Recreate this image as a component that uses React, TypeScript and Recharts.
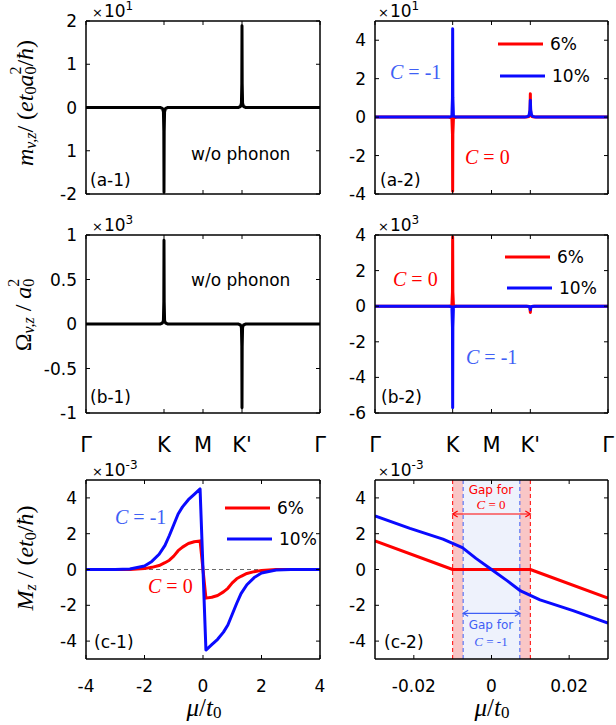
import React from 'react';
import { LineChart, Line, XAxis, YAxis, ReferenceLine, ReferenceArea } from 'recharts';

const RED = '#ff0000';
const BLUE = '#0a0aff';
const BLUE_TXT = '#3f5ff5';
const BLACK = '#000000';
const SANS = "'DejaVu Sans', sans-serif";
const SERIF = "'Liberation Serif', serif";

// ---------- k-path axis (Γ-K-M-K'-Γ) ----------
const kTicks = [0, 2, 3, 4, 6];
const kLabels = ['Γ', 'K', 'M', "K'", 'Γ'];

// ---------- (a-1) orbital magnetic moment, w/o phonon (×10^1) ----------
const a1X = [0, 1.9, 1.96, 1.985, 1.995, 2, 2.005, 2.015, 2.04, 2.1, 3.9, 3.96, 3.985, 3.995, 4, 4.005, 4.015, 4.04, 4.1, 6];
const a1Y = [0, 0, -0.02, -0.1, -0.55, -1.96, -0.55, -0.1, -0.02, 0, 0, 0.02, 0.1, 0.55, 1.89, 0.55, 0.1, 0.02, 0, 0];
const a1YTicks = [-2, -1, 0, 1, 2];
const a1YLabels = ['-2', '1', '0', '1', '2'];

// ---------- (a-2) 6% and 10% ----------
const a2RedX = [0, 1.9, 1.98, 1.995, 2, 2.005, 2.02, 2.1, 3.9, 3.96, 3.985, 3.995, 4, 4.005, 4.015, 4.04, 4.1, 6];
const a2RedY = [0, 0, -0.05, -0.9, -3.86, -0.9, -0.05, 0, 0, 0.03, 0.12, 0.4, 1.22, 0.4, 0.12, 0.03, 0, 0];
const a2BlueX = [0, 1.9, 1.98, 1.995, 2, 2.005, 2.02, 2.1, 3.85, 3.94, 3.97, 3.99, 4, 4.01, 4.03, 4.06, 4.15, 6];
const a2BlueY = [0, 0, 0.05, 1.0, 4.6, 1.0, 0.05, 0, 0, 0.04, 0.12, 0.35, 0.88, 0.35, 0.12, 0.04, 0, 0];
const a2YTicks = [-4, -2, 0, 2, 4];
const a2YLabels = ['-4', '-2', '0', '2', '4'];

// ---------- (b-1) Berry curvature, w/o phonon (×10^3) ----------
const b1X = [0, 1.9, 1.96, 1.985, 1.995, 2, 2.005, 2.015, 2.04, 2.1, 3.9, 3.96, 3.985, 3.995, 4, 4.005, 4.015, 4.04, 4.1, 6];
const b1Y = [0, 0, 0.01, 0.04, 0.25, 0.94, 0.25, 0.04, 0.01, 0, 0, -0.01, -0.04, -0.25, -0.94, -0.25, -0.04, -0.01, 0, 0];
const b1YTicks = [-1, -0.5, 0, 0.5, 1];
const b1YLabels = ['-1', '-0.5', '0', '0.5', '1'];

// ---------- (b-2) 6% and 10% ----------
const b2X = [0, 1.9, 1.98, 1.995, 2, 2.005, 2.02, 2.1, 3.9, 3.97, 3.99, 4, 4.01, 4.03, 4.1, 6];
const b2RedY = [0, 0, 0.03, 0.8, 3.9, 0.8, 0.03, 0, 0, -0.02, -0.1, -0.35, -0.1, -0.02, 0, 0];
const b2BlueY = [0, 0, -0.04, -1.2, -5.7, -1.2, -0.04, 0, 0, -0.02, -0.07, -0.2, -0.07, -0.02, 0, 0];
const b2YTicks = [-6, -4, -2, 0, 2, 4];
const b2YLabels = ['-6', '-4', '-2', '0', '2', '4'];

// ---------- (c-1) M_z vs mu (×10^-3) ----------
const c1X = [-4, -3, -2.5, -2, -1.75, -1.5, -1.3, -1.15, -1, -0.85, -0.7, -0.5, -0.3, -0.1, 0.1, 0.3, 0.5, 0.7, 0.85, 1, 1.15, 1.3, 1.5, 1.75, 2, 2.5, 3, 4];
const c1RedY = [0, 0, 0, 0.05, 0.12, 0.22, 0.38, 0.52, 0.75, 1.05, 1.25, 1.45, 1.55, 1.6, -1.6, -1.55, -1.45, -1.25, -1.05, -0.75, -0.52, -0.38, -0.22, -0.12, -0.05, 0, 0, 0];
const c1BlueY = [0, 0, 0.03, 0.2, 0.45, 0.85, 1.35, 1.9, 2.5, 3.1, 3.5, 3.9, 4.2, 4.5, -4.5, -4.2, -3.9, -3.5, -3.1, -2.5, -1.9, -1.35, -0.85, -0.45, -0.2, -0.03, 0, 0];
const c1XTicks = [-4, -2, 0, 2, 4];
const c1XLabels = ['-4', '-2', '0', '2', '4'];
const cYTicks = [-4, -2, 0, 2, 4];
const cYLabels = ['-4', '-2', '0', '2', '4'];

// ---------- (c-2) zoom near mu = 0 ----------
const c2RedX = [-0.03, -0.01, 0.01, 0.03];
const c2RedY = [1.6, 0, 0, -1.6];
const c2BlueX = [-0.03, -0.021, -0.0125, -0.0075, -0.004, 0, 0.004, 0.0075, 0.0125, 0.021, 0.03];
const c2BlueY = [3.0, 2.3, 1.7, 1.22, 0.62, 0, -0.62, -1.2, -1.7, -2.3, -3.0];
const c2XTicks = [-0.02, 0, 0.02];
const c2XLabels = ['-0.02', '0', '0.02'];
const gapRed: [number, number] = [-0.01, 0.01];
const gapBlue: [number, number] = [-0.0073, 0.0073];
const gapRedArrowY = 3.1;
const gapBlueArrowY = -2.45;

const zip = (xs: number[], ys: number[]) => xs.map((x, i) => ({ x, y: ys[i] }));

type Series = { data: { x: number; y: number }[]; color: string; width?: number };

const TL = 4;

function makeBottomTick(ticks: number[], labels: string[] | null, fontSize: number, offset: number, fontFamily = SANS) {
  return (props: any) => {
    const { x, y, payload } = props;
    const i = ticks.findIndex((t) => Math.abs(t - payload.value) < 1e-9);
    const label = labels && i >= 0 ? labels[i] : null;
    return (
      <g>
        <line x1={x} y1={y} x2={x} y2={y - TL} stroke={BLACK} strokeWidth={1} />
        {label != null && (
          <text x={x} y={y + offset} textAnchor="middle" dominantBaseline="central" fontSize={fontSize} fontFamily={fontFamily} fill={BLACK}>
            {label}
          </text>
        )}
      </g>
    );
  };
}

function makeLeftTick(ticks: number[], labels: string[]) {
  return (props: any) => {
    const { x, y, payload } = props;
    const i = ticks.findIndex((t) => Math.abs(t - payload.value) < 1e-9);
    const label = i >= 0 ? labels[i] : '';
    return (
      <g>
        <line x1={x} y1={y} x2={x + TL} y2={y} stroke={BLACK} strokeWidth={1} />
        <text x={x - 9} y={y} textAnchor="end" dominantBaseline="central" fontSize={17} fontFamily={SANS} fill={BLACK}>
          {label}
        </text>
      </g>
    );
  };
}

const topTick = (props: any) => <line x1={props.x} y1={props.y} x2={props.x} y2={props.y + TL} stroke={BLACK} strokeWidth={1} />;
const rightTick = (props: any) => <line x1={props.x - TL} y1={props.y} x2={props.x} y2={props.y} stroke={BLACK} strokeWidth={1} />;

type PanelProps = {
  left: number; top: number; right: number; bottom: number;
  xDomain: [number, number]; xTicks: number[]; xLabels: string[] | null; xLabelSize: number; xLabelOffset: number;
  yDomain: [number, number]; yTicks: number[]; yLabels: string[];
  series: Series[];
  before?: React.ReactNode;
  after?: React.ReactNode;
};

function Panel(p: PanelProps) {
  const ML = 70, MR = 10, MT = 10, MB = 45;
  const AX = 1; // tiny axis thickness in layout
  const w = p.right - p.left;
  const h = p.bottom - p.top;
  const axisLine = { stroke: BLACK, strokeWidth: 1.5 };
  return (
    <div style={{ position: 'absolute', left: p.left - ML, top: p.top - MT }}>
      <LineChart width={w + ML + MR} height={h + MT + MB} margin={{ top: MT - AX, right: MR - AX, bottom: MB - AX, left: ML - AX }}>
        <XAxis type="number" dataKey="x" domain={p.xDomain} ticks={p.xTicks} interval={0} height={AX} tickSize={0} tickMargin={0}
          tickLine={false} axisLine={axisLine} allowDataOverflow tick={makeBottomTick(p.xTicks, p.xLabels, p.xLabelSize, p.xLabelOffset)} />
        <XAxis xAxisId="top" orientation="top" type="number" dataKey="x" domain={p.xDomain} ticks={p.xTicks} interval={0} height={AX}
          tickSize={0} tickMargin={0} tickLine={false} axisLine={axisLine} allowDataOverflow tick={topTick} />
        <YAxis type="number" domain={p.yDomain} ticks={p.yTicks} interval={0} width={AX} tickSize={0} tickMargin={0}
          tickLine={false} axisLine={axisLine} allowDataOverflow tick={makeLeftTick(p.yTicks, p.yLabels)} />
        <YAxis yAxisId="r" orientation="right" type="number" domain={p.yDomain} ticks={p.yTicks} interval={0} width={AX}
          tickSize={0} tickMargin={0} tickLine={false} axisLine={axisLine} allowDataOverflow tick={rightTick} />
        {p.before}
        {p.series.map((s, i) => (
          <Line key={i} data={s.data} dataKey="y" type="linear" stroke={s.color} strokeWidth={s.width ?? 3}
            dot={false} activeDot={false} isAnimationActive={false} strokeLinejoin="round" />
        ))}
        {p.after}
      </LineChart>
    </div>
  );
}

function arrowShape(color: string) {
  return (props: any) => {
    const { x1, y1, x2, y2 } = props;
    const a = 5;
    return (
      <g stroke={color} strokeWidth={1.2} fill="none">
        <line x1={x1} y1={y1} x2={x2} y2={y2} />
        <polyline points={`${x1 + a},${y1 - 3} ${x1},${y1} ${x1 + a},${y1 + 3}`} />
        <polyline points={`${x2 - a},${y2 - 3} ${x2},${y2} ${x2 - a},${y2 + 3}`} />
      </g>
    );
  };
}

function Exp({ x, y, pow }: { x: number; y: number; pow: string }) {
  return (
    <text x={x} y={y} fontFamily={SANS} fill={BLACK}>
      <tspan fontSize={13}>×</tspan>
      <tspan fontSize={17} dx={1}>10</tspan>
      <tspan fontSize={12} dy={-7}>{pow}</tspan>
    </text>
  );
}

function CLabel({ x, y, val, color, size = 20 }: { x: number; y: number; val: string; color: string; size?: number }) {
  return (
    <text x={x} y={y} dominantBaseline="central" fontFamily={SERIF} fontSize={size} fill={color}>
      <tspan fontStyle="italic">C</tspan>
      <tspan> = {val}</tspan>
    </text>
  );
}

function CLabelMid({ x, y, val, color, size }: { x: number; y: number; val: string; color: string; size: number }) {
  return (
    <text x={x} y={y} textAnchor="middle" dominantBaseline="central" fontFamily={SERIF} fontSize={size} fill={color}>
      <tspan fontStyle="italic">C</tspan>
      <tspan> = {val}</tspan>
    </text>
  );
}

function LegendItem({ x, y, color, label }: { x: number; y: number; color: string; label: string }) {
  return (
    <g>
      <line x1={x} y1={y} x2={x + 45} y2={y} stroke={color} strokeWidth={3} />
      <text x={x + 52} y={y} dominantBaseline="central" fontFamily={SANS} fontSize={17} fill={BLACK}>{label}</text>
    </g>
  );
}

function Txt({ x, y, s, size = 17, color = BLACK, anchor = 'start' }: { x: number; y: number; s: string; size?: number; color?: string; anchor?: string }) {
  return (
    <text x={x} y={y} dominantBaseline="central" textAnchor={anchor as any} fontFamily={SANS} fontSize={size} fill={color}>{s}</text>
  );
}

const L = { left: 86, right: 320 };
const R = { left: 375, right: 608 };
const rowA = { top: 21, bottom: 194 };
const rowB = { top: 235, bottom: 413 };
const rowC = { top: 480, bottom: 659 };

export default function App() {
  return (
    <div style={{ position: 'absolute', left: 0, top: 0, width: 616, height: 725, background: '#fff', overflow: 'hidden' }}>
      <Panel {...L} {...rowA} xDomain={[0, 6]} xTicks={kTicks} xLabels={null} xLabelSize={21} xLabelOffset={30}
        yDomain={[-2, 2]} yTicks={a1YTicks} yLabels={a1YLabels}
        series={[{ data: zip(a1X, a1Y), color: BLACK }]} />
      <Panel {...R} {...rowA} xDomain={[0, 6]} xTicks={kTicks} xLabels={null} xLabelSize={21} xLabelOffset={30}
        yDomain={[-4, 5]} yTicks={a2YTicks} yLabels={a2YLabels}
        series={[{ data: zip(a2RedX, a2RedY), color: RED }, { data: zip(a2BlueX, a2BlueY), color: BLUE }]} />
      <Panel {...L} {...rowB} xDomain={[0, 6]} xTicks={kTicks} xLabels={kLabels} xLabelSize={21} xLabelOffset={32}
        yDomain={[-1, 1]} yTicks={b1YTicks} yLabels={b1YLabels}
        series={[{ data: zip(b1X, b1Y), color: BLACK }]} />
      <Panel {...R} {...rowB} xDomain={[0, 6]} xTicks={kTicks} xLabels={kLabels} xLabelSize={21} xLabelOffset={32}
        yDomain={[-6, 4]} yTicks={b2YTicks} yLabels={b2YLabels}
        series={[{ data: zip(b2X, b2RedY), color: RED }, { data: zip(b2X, b2BlueY), color: BLUE }]} />
      <Panel {...L} {...rowC} xDomain={[-4, 4]} xTicks={c1XTicks} xLabels={c1XLabels} xLabelSize={17} xLabelOffset={27}
        yDomain={[-5, 5]} yTicks={cYTicks} yLabels={cYLabels}
        before={<ReferenceLine y={0} stroke="#444" strokeWidth={0.8} strokeDasharray="4 3" />}
        series={[{ data: zip(c1X, c1RedY), color: RED }, { data: zip(c1X, c1BlueY), color: BLUE }]} />
      <Panel {...R} {...rowC} xDomain={[-0.03, 0.03]} xTicks={c2XTicks} xLabels={c2XLabels} xLabelSize={17} xLabelOffset={27}
        yDomain={[-5, 5]} yTicks={cYTicks} yLabels={cYLabels}
        before={[
          <ReferenceArea key="ra1" x1={gapRed[0]} x2={gapBlue[0]} fill="#f9c6c6" fillOpacity={1} stroke="none" />,
          <ReferenceArea key="ra2" x1={gapBlue[0]} x2={gapBlue[1]} fill="#eef2fc" fillOpacity={1} stroke="none" />,
          <ReferenceArea key="ra3" x1={gapBlue[1]} x2={gapRed[1]} fill="#f9c6c6" fillOpacity={1} stroke="none" />,
          <ReferenceLine key="rl1" x={gapRed[0]} stroke={RED} strokeWidth={1} strokeDasharray="4 3" />,
          <ReferenceLine key="rl2" x={gapRed[1]} stroke={RED} strokeWidth={1} strokeDasharray="4 3" />,
          <ReferenceLine key="rl3" x={gapBlue[0]} stroke={BLUE_TXT} strokeWidth={1} strokeDasharray="4 3" />,
          <ReferenceLine key="rl4" x={gapBlue[1]} stroke={BLUE_TXT} strokeWidth={1} strokeDasharray="4 3" />,
          <ReferenceLine key="ar1" segment={[{ x: gapRed[0], y: gapRedArrowY }, { x: gapRed[1], y: gapRedArrowY }]} shape={arrowShape(RED)} />,
          <ReferenceLine key="ar2" segment={[{ x: gapBlue[0], y: gapBlueArrowY }, { x: gapBlue[1], y: gapBlueArrowY }]} shape={arrowShape(BLUE_TXT)} />,
        ]}
        series={[{ data: zip(c2RedX, c2RedY), color: RED }, { data: zip(c2BlueX, c2BlueY), color: BLUE }]} />

      <svg width={616} height={725} style={{ position: 'absolute', left: 0, top: 0, pointerEvents: 'none' }}>
        {/* exponents */}
        <Exp x={92} y={17} pow="1" />
        <Exp x={378} y={17} pow="1" />
        <Exp x={92} y={231} pow="3" />
        <Exp x={378} y={231} pow="3" />
        <Exp x={92} y={476} pow="-3" />
        <Exp x={378} y={476} pow="-3" />

        {/* panel tags */}
        <Txt x={90} y={180} s="(a-1)" />
        <Txt x={380} y={180} s="(a-2)" />
        <Txt x={90} y={397} s="(b-1)" />
        <Txt x={381} y={397} s="(b-2)" />
        <Txt x={94} y={642} s="(c-1)" />
        <Txt x={384} y={642} s="(c-2)" />

        <Txt x={191} y={154} s="w/o phonon" />
        <Txt x={191} y={280} s="w/o phonon" />

        {/* Chern number labels */}
        <CLabel x={390} y={72} val="-1" color={BLUE_TXT} />
        <CLabel x={465} y={157} val="0" color={RED} />
        <CLabel x={393} y={279} val="0" color={RED} />
        <CLabel x={466} y={357} val="-1" color={BLUE_TXT} />
        <CLabel x={115} y={517} val="-1" color={BLUE_TXT} />
        <CLabel x={148} y={586} val="0" color={RED} />

        {/* gap annotations */}
        <Txt x={491} y={490} s="Gap for" size={12} color={RED} anchor="middle" />
        <CLabelMid x={491} y={504} val="0" color={RED} size={13} />
        <Txt x={491} y={625} s="Gap for" size={12} color={BLUE_TXT} anchor="middle" />
        <CLabelMid x={491} y={641} val="-1" color={BLUE_TXT} size={13} />

        {/* legends */}
        <LegendItem x={498} y={44} color={RED} label="6%" />
        <LegendItem x={500} y={76} color={BLUE} label="10%" />
        <LegendItem x={505} y={257} color={RED} label="6%" />
        <LegendItem x={507} y={288} color={BLUE} label="10%" />
        <LegendItem x={225} y={508} color={RED} label="6%" />
        <LegendItem x={227} y={539} color={BLUE} label="10%" />

        {/* y axis titles */}
        <text transform="rotate(-90 25 103)" x={25} y={103} textAnchor="middle" dominantBaseline="central" fontFamily={SERIF} fontSize={24} fill={BLACK}>
          <tspan fontStyle="italic">m</tspan>
          <tspan fontSize={16} dy={5} fontStyle="italic">v,z</tspan>
          <tspan dy={-5}>/ (</tspan>
          <tspan fontStyle="italic">et</tspan>
          <tspan fontSize={16} dy={5}>0</tspan>
          <tspan dy={-5} fontStyle="italic">a</tspan>
          <tspan fontSize={16} dy={5}>0</tspan>
          <tspan fontSize={16} dx={-8} dy={-15}>2</tspan>
          <tspan dy={10}>/</tspan>
          <tspan fontStyle="italic">ħ</tspan>
          <tspan>)</tspan>
        </text>
        <text transform="rotate(-90 23 315)" x={23} y={315} textAnchor="middle" dominantBaseline="central" fontFamily={SERIF} fontSize={24} fill={BLACK}>
          <tspan>Ω</tspan>
          <tspan fontSize={16} dy={5} fontStyle="italic">v,z</tspan>
          <tspan dy={-5}> / </tspan>
          <tspan fontStyle="italic">a</tspan>
          <tspan fontSize={16} dy={5}>0</tspan>
          <tspan fontSize={16} dx={-8} dy={-15}>2</tspan>
        </text>
        <text transform="rotate(-90 25 558)" x={25} y={558} textAnchor="middle" dominantBaseline="central" fontFamily={SERIF} fontSize={24} fill={BLACK}>
          <tspan fontStyle="italic">M</tspan>
          <tspan fontSize={16} dy={5} fontStyle="italic">z</tspan>
          <tspan dy={-5}> / (</tspan>
          <tspan fontStyle="italic">et</tspan>
          <tspan fontSize={16} dy={5}>0</tspan>
          <tspan dy={-5}>/</tspan>
          <tspan fontStyle="italic">ħ</tspan>
          <tspan>)</tspan>
        </text>

        {/* x axis titles */}
        {[204, 492].map((cx) => (
          <text key={cx} x={cx} y={707} textAnchor="middle" dominantBaseline="central" fontFamily={SERIF} fontSize={25} fill={BLACK}>
            <tspan fontStyle="italic">μ</tspan>
            <tspan>/</tspan>
            <tspan fontStyle="italic">t</tspan>
            <tspan fontSize={17} dy={5}>0</tspan>
          </text>
        ))}
      </svg>
    </div>
  );
}
